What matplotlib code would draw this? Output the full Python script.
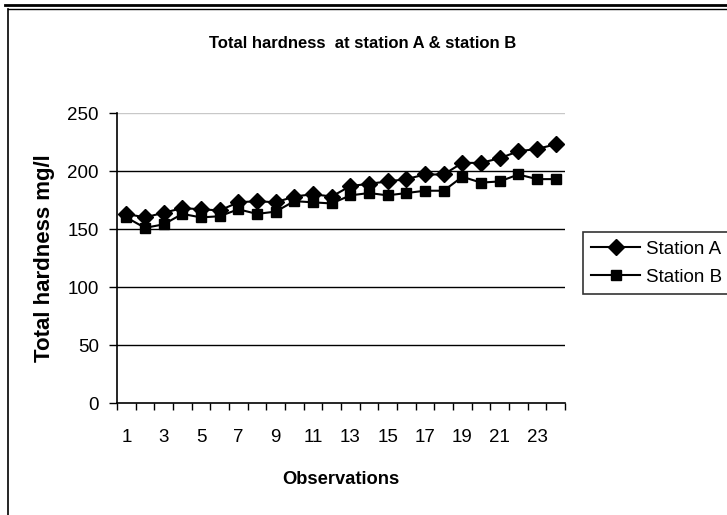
import matplotlib
matplotlib.use("Agg")
import matplotlib.pyplot as plt
from matplotlib.lines import Line2D

plt.rcParams["font.family"] = ["Liberation Sans", "DejaVu Sans"]

observations = list(range(1, 25))
station_a = [163, 160, 164, 168, 167, 166, 173, 174, 173, 178, 180, 178,
             187, 189, 191, 193, 197, 197, 207, 207, 211, 217, 219, 223]
station_b = [160, 151, 154, 163, 160, 161, 167, 163, 165, 174, 173, 172,
             179, 181, 179, 181, 183, 183, 195, 190, 191, 197, 193, 193]
y_ticks = [0, 50, 100, 150, 200, 250]

fig = plt.figure(figsize=(7.27, 5.15), dpi=100)
ax = fig.add_axes([117 / 727, 112 / 515, 448 / 727, 290 / 515])

# gridlines: black, top one light grey
for y in y_ticks[1:-1]:
    ax.axhline(y, color="black", lw=1.0, zorder=1)
ax.axhline(y_ticks[-1], color="#c8c8c8", lw=1.0, zorder=1)

ax.plot(observations, station_a, color="black", lw=1.5, marker="D",
        markersize=8.5, label="Station A", zorder=3)
ax.plot(observations, station_b, color="black", lw=1.5, marker="s",
        markersize=7.5, label="Station B", zorder=3)

ax.set_xlim(0.5, 24.5)
ax.set_ylim(0, 250)
ax.set_yticks(y_ticks)
ax.tick_params(axis="y", direction="out", length=6, width=1, labelsize=13.5, pad=7)

# ticks between categories, labels on every other category
ax.set_xticks([i + 0.5 for i in range(0, 25)])
ax.set_xticklabels([])
ax.set_xticks(observations[::2], minor=True)
ax.set_xticklabels([str(o) for o in observations[::2]], minor=True)
ax.tick_params(axis="x", which="major", direction="out", length=5, width=1)
ax.tick_params(axis="x", which="minor", length=0, labelsize=13.5, pad=19)

for side in ["top", "right"]:
    ax.spines[side].set_visible(False)
for side in ["left", "bottom"]:
    ax.spines[side].set_color("black")
    ax.spines[side].set_linewidth(1.2)

ax.set_xlabel("Observations", fontsize=13.2, fontweight="bold", labelpad=18)
ax.set_ylabel("Total hardness mg/l", fontsize=16, fontweight="bold", labelpad=9)
fig.text(363 / 727, 1 - 43 / 515, "Total hardness  at station A & station B",
         ha="center", va="center", fontsize=12, fontweight="bold")

leg = ax.legend(loc="upper left", bbox_to_anchor=(583 / 727, 1 - 232 / 515),
                bbox_transform=fig.transFigure, fontsize=13.5, frameon=True,
                fancybox=False, edgecolor="black", handlelength=2.6,
                handletextpad=0.3, labelspacing=0.6, borderpad=0.45,
                borderaxespad=0)
leg.get_frame().set_linewidth(1.2)

# outer chart border: double line at top, single on the left
fig.add_artist(Line2D([5 / 727, 1], [1 - 5 / 515] * 2, color="black", lw=2,
                      transform=fig.transFigure))
fig.add_artist(Line2D([8 / 727, 1], [1 - 9 / 515] * 2, color="black", lw=1,
                      transform=fig.transFigure))
fig.add_artist(Line2D([8 / 727] * 2, [0, 1 - 9 / 515], color="black", lw=1.2,
                      transform=fig.transFigure))

fig.savefig("out.png", dpi=100)
